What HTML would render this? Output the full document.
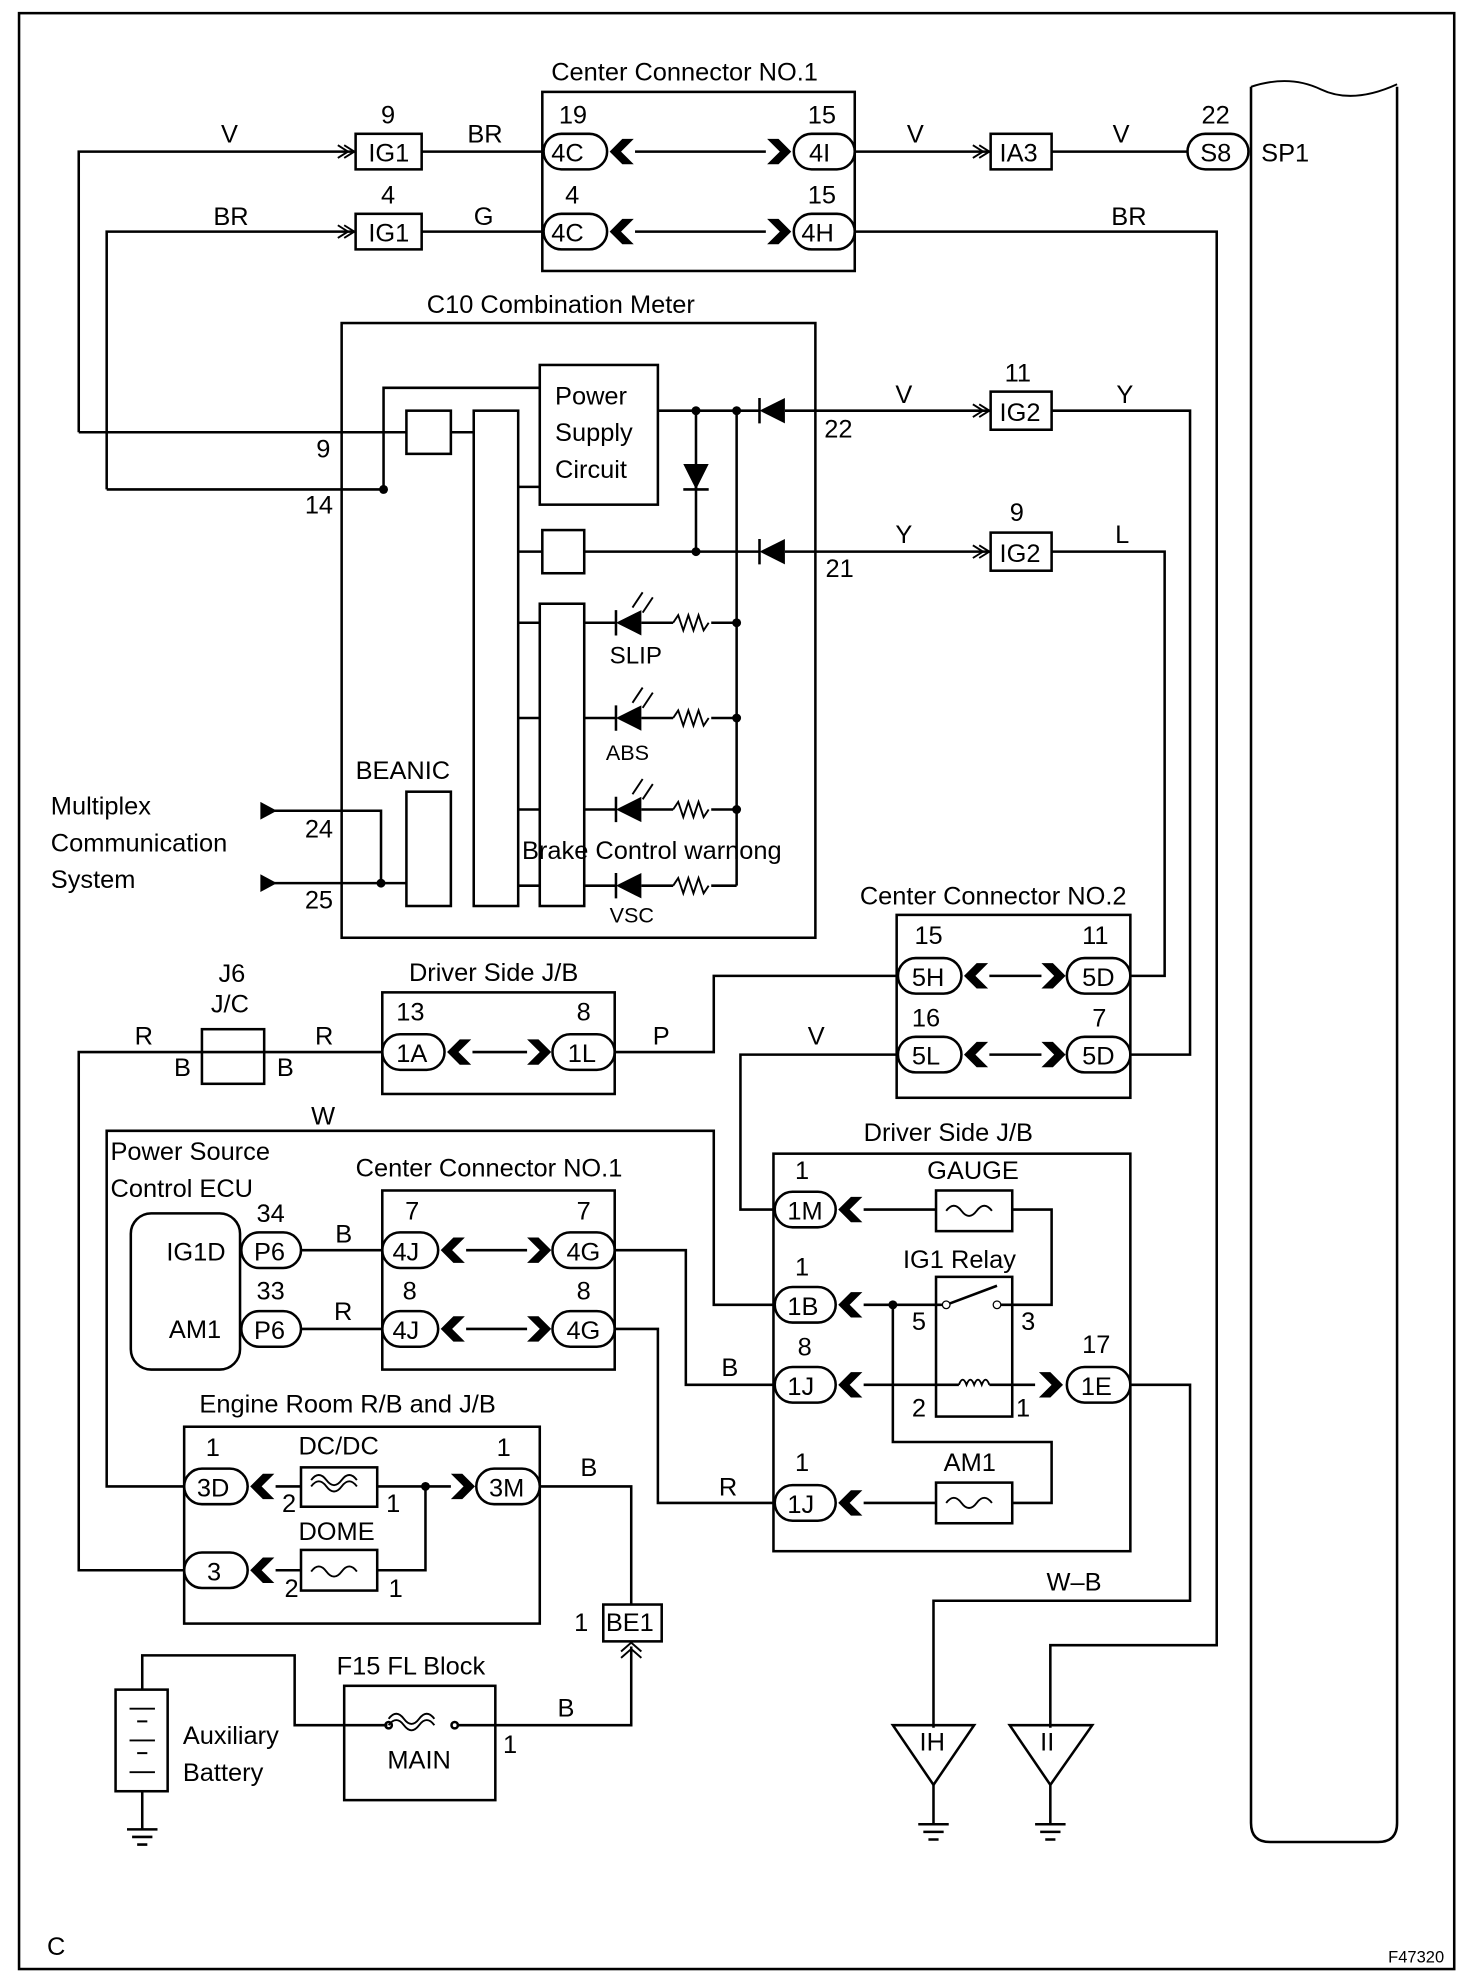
<!DOCTYPE html>
<html><head><meta charset="utf-8"><style>
html,body{margin:0;padding:0;background:#fff}
svg{display:block}
text{font-family:"Liberation Sans",Arial,sans-serif;font-size:20px;fill:#000}
</style></head><body>
<svg width="1472" height="1986" viewBox="0 0 1159 1563" xmlns="http://www.w3.org/2000/svg">
<defs>
<polygon id="cl" points="0,0 10,-10 19,-10 9,0 19,10 10,10" fill="#000"/>
<polygon id="cr" points="0,-10 9,-10 19,0 9,10 0,10 10,0" fill="#000"/>
<path id="dd" d="M0,-5 L8,0 L0,5 M5,-5 L13,0 L5,5" fill="none" stroke="#000" stroke-width="1.5"/>
</defs>
<g fill="none" stroke="#000" stroke-width="2">
<rect x="15" y="10" width="1130" height="1540"/>
<path d="M985,68 V1435 Q985,1450 1000,1450 H1085 Q1100,1450 1100,1435 V68"/>
<path d="M985,68 Q1015,58 1040,70 T1100,66" stroke-width="1.5"/>
<rect x="427" y="72" width="246" height="141"/>
<rect x="280" y="105" width="52" height="28"/>
<rect x="280" y="168" width="52" height="28"/>
<rect x="428" y="105" width="50" height="28" rx="14"/>
<rect x="625" y="105" width="48" height="28" rx="14"/>
<rect x="428" y="168" width="50" height="28" rx="14"/>
<rect x="625" y="168" width="48" height="28" rx="14"/>
<rect x="780" y="105" width="48" height="28"/>
<rect x="935" y="105" width="48" height="28" rx="14"/>
<rect x="780" y="308" width="48" height="30"/>
<rect x="780" y="419" width="48" height="30"/>
<path d="M62,340 V119 H280 M332,119 H428 M500,119 H603 M673,119 H780 M828,119 H935"/>
<path d="M84,385 V182 H280 M332,182 H428 M500,182 H603 M673,182 H958 V1295 H827 V1360"/>
<rect x="269" y="254" width="373" height="484"/>
<rect x="425" y="287" width="93" height="110"/>
<rect x="320" y="323" width="35" height="34"/>
<rect x="373" y="323" width="35" height="390"/>
<rect x="425" y="475" width="35" height="238"/>
<rect x="427" y="417" width="33" height="34"/>
<rect x="320" y="623" width="35" height="90"/>
<path d="M62,340 H320 M355,340 H373 M84,385 H302 V305 H425 M408,383 H425 M408,434 H427"/>
<path d="M408,490 H425 M408,565 H425 M408,637 H425 M408,697 H425"/>
<path d="M518,323 H598 M618,323 H780 M828,323 H937 V830 H890"/>
<path d="M548,323 V434 M460,434 H598 M618,434 H780 M828,434 H917 V768 H890"/>
<path d="M580,323 V697"/>
<path d="M538,385 H558 M548,365 V385" />
<path d="M598,313 V333 M598,424 V444"/>
<path d="M460,490 H485 M505,490 H530 M560,490 H580"/>
<path d="M460,565 H485 M505,565 H530 M560,565 H580"/>
<path d="M460,637 H485 M505,637 H530 M560,637 H580"/>
<path d="M460,697 H485 M505,697 H530 M560,697 H580"/>
<path d="M530,490 l4,-6 l4,12 l4,-12 l4,12 l4,-12 l4,12 l4,-6 M530,565 l4,-6 l4,12 l4,-12 l4,12 l4,-12 l4,12 l4,-6 M530,637 l4,-6 l4,12 l4,-12 l4,12 l4,-12 l4,12 l4,-6 M530,697 l4,-6 l4,12 l4,-12 l4,12 l4,-12 l4,12 l4,-6" stroke-width="1.5"/>
<path d="M485,480 V500 M485,555 V575 M485,627 V647 M485,687 V707"/>
<path d="M498,478 l8,-12 M506,482 l8,-12 M498,553 l8,-12 M506,557 l8,-12 M498,625 l8,-12 M506,629 l8,-12" stroke-width="1.5"/>
<path d="M215,638 H300 V695 M215,695 H320"/>
<rect x="706" y="720" width="184" height="144"/>
<rect x="707" y="754" width="50" height="28" rx="14"/>
<rect x="840" y="754" width="50" height="28" rx="14"/>
<rect x="707" y="816" width="50" height="28" rx="14"/>
<rect x="840" y="816" width="50" height="28" rx="14"/>
<path d="M779,768 H820 M779,830 H820"/>
<path d="M707,768 H562 V828 H484 M707,830 H583 V952 H610"/>
<rect x="301" y="781" width="183" height="80"/>
<rect x="301" y="814" width="49" height="28" rx="14"/>
<rect x="435" y="814" width="49" height="28" rx="14"/>
<path d="M372,828 H415"/>
<rect x="159" y="810" width="49" height="43"/>
<path d="M145,1236 H62 V828 H301 M145,1170 H84 V890 H562 V1027 H610"/>
<rect x="103" y="955" width="86" height="123" rx="16"/>
<rect x="190" y="970" width="47" height="28" rx="14"/>
<rect x="190" y="1032" width="47" height="28" rx="14"/>
<rect x="301" y="937" width="183" height="141"/>
<rect x="301" y="970" width="44" height="28" rx="14"/>
<rect x="301" y="1032" width="44" height="28" rx="14"/>
<rect x="435" y="970" width="49" height="28" rx="14"/>
<rect x="435" y="1032" width="49" height="28" rx="14"/>
<path d="M237,984 H301 M237,1046 H301 M367,984 H415 M367,1046 H415"/>
<path d="M484,984 H540 V1090 H610 M484,1046 H518 V1183 H610"/>
<rect x="609" y="908" width="281" height="313"/>
<rect x="610" y="938" width="48" height="28" rx="14"/>
<rect x="610" y="1013" width="48" height="28" rx="14"/>
<rect x="610" y="1076" width="48" height="28" rx="14"/>
<rect x="610" y="1169" width="48" height="28" rx="14"/>
<rect x="840" y="1076" width="50" height="28" rx="14"/>
<rect x="737" y="937" width="60" height="32"/>
<rect x="737" y="1005" width="60" height="110"/>
<rect x="737" y="1167" width="60" height="32"/>
<path d="M680,952 H737 M797,952 H828 V1027 H797 M680,1027 H745 M680,1090 H755 M779,1090 H815 M703,1027 V1135 H828 V1183 H797 M680,1183 H737"/>
<path d="M745,1027 L785,1012 M785,1027 H797" />
<path d="M755,1090 q3,-8 6,0 q3,-8 6,0 q3,-8 6,0 q3,-8 6,0" stroke-width="1.5"/>
<path d="M890,1090 H937 V1260 H735 V1360"/>
<path d="M745,953 q6,-8 12,0 q6,8 12,0 q6,-8 12,0 M745,1183 q6,-8 12,0 q6,8 12,0 q6,-8 12,0" stroke-width="1.5"/>
<rect x="145" y="1123" width="280" height="155"/>
<rect x="145" y="1156" width="50" height="28" rx="14"/>
<rect x="375" y="1156" width="50" height="28" rx="14"/>
<rect x="145" y="1222" width="50" height="28" rx="14"/>
<rect x="237" y="1155" width="60" height="31"/>
<rect x="237" y="1220" width="60" height="32"/>
<path d="M217,1170 H237 M297,1170 H355 M217,1236 H237 M297,1236 H335 V1170"/>
<path d="M245,1170 q6,-8 12,0 q6,8 12,0 q6,-8 12,0 M245,1165 q6,-8 12,0 q6,8 12,0 q6,-8 12,0 M245,1237 q6,-8 12,0 q6,8 12,0 q6,-8 12,0" stroke-width="1.5"/>
<path d="M425,1170 H497 V1263"/>
<rect x="475" y="1263" width="46" height="29"/>
<path d="M489,1305 l8,-7 l8,7 M489,1300 l8,-7 l8,7" stroke-width="1.5"/>
<path d="M497,1296 V1358 H390"/>
<rect x="271" y="1327" width="119" height="90"/>
<path d="M112,1330 V1303 H232 V1358 H305 M360,1358 H390"/>
<path d="M306,1358 q6,-8 12,0 q6,8 12,0 q6,-8 12,0 M306,1353 q6,-8 12,0 q6,8 12,0 q6,-8 12,0" stroke-width="1.5"/>
<circle cx="306" cy="1358" r="2.5"/><circle cx="358" cy="1358" r="2.5"/>
<rect x="91" y="1330" width="41" height="80"/>
<path d="M102,1345 H122 M108,1355 H116 M102,1370 H122 M108,1380 H116 M102,1395 H122" stroke-width="1.5"/>
<path d="M112,1410 V1440 M100,1440 H124 M104,1446 H120 M108,1452 H116"/>
<polygon points="703,1358 767,1358 735,1405"/>
<polygon points="795,1358 860,1358 827,1405"/>
<path d="M735,1405 V1436 M723,1436 H747 M727,1442 H743 M731,1448 H739"/>
<path d="M827,1405 V1436 M815,1436 H839 M819,1442 H835 M823,1448 H831"/>
</g>
<g fill="#000">
<use href="#cl" x="480" y="119"/><use href="#cr" x="604" y="119"/>
<use href="#cl" x="480" y="182"/><use href="#cr" x="604" y="182"/>
<use href="#cl" x="759" y="768"/><use href="#cr" x="820" y="768"/>
<use href="#cl" x="759" y="830"/><use href="#cr" x="820" y="830"/>
<use href="#cl" x="352" y="828"/><use href="#cr" x="415" y="828"/>
<use href="#cl" x="347" y="984"/><use href="#cr" x="415" y="984"/>
<use href="#cl" x="347" y="1046"/><use href="#cr" x="415" y="1046"/>
<use href="#cl" x="660" y="952"/><use href="#cl" x="660" y="1027"/>
<use href="#cl" x="660" y="1090"/><use href="#cl" x="660" y="1183"/>
<use href="#cr" x="818" y="1090"/>
<use href="#cl" x="197" y="1170"/><use href="#cr" x="355" y="1170"/>
<use href="#cl" x="197" y="1236"/>
<polygon points="598,323 618,313 618,333"/>
<polygon points="598,434 618,424 618,444"/>
<polygon points="538,365 558,365 548,385"/>
<polygon points="485,490 505,480 505,500"/><polygon points="485,565 505,555 505,575"/>
<polygon points="485,637 505,627 505,647"/><polygon points="485,697 505,687 505,707"/>
<polygon points="205,631 218,638 205,645"/><polygon points="205,688 218,695 205,702"/>
<circle cx="302" cy="385" r="3.5"/><circle cx="548" cy="323" r="3.5"/><circle cx="580" cy="323" r="3.5"/>
<circle cx="548" cy="434" r="3.5"/><circle cx="580" cy="490" r="3.5"/><circle cx="580" cy="565" r="3.5"/>
<circle cx="580" cy="637" r="3.5"/><circle cx="300" cy="695" r="3.5"/><circle cx="703" cy="1027" r="3.5"/>
<circle cx="335" cy="1170" r="3.5"/>
<circle cx="745" cy="1027" r="3" fill="#fff" stroke="#000"/><circle cx="785" cy="1027" r="3" fill="#fff" stroke="#000"/>
</g>
<g>
<use href="#dd" x="266" y="119"/><use href="#dd" x="266" y="182"/><use href="#dd" x="766" y="119"/>
<use href="#dd" x="766" y="323"/><use href="#dd" x="766" y="434"/>
</g>
<g>
<text x="434" y="63">Center Connector NO.1</text>
<text x="174" y="112">V</text><text x="300" y="97">9</text><text x="368" y="112">BR</text>
<text x="290" y="127">IG1</text><text x="290" y="190">IG1</text>
<text x="440" y="97">19</text><text x="636" y="97">15</text>
<text x="434" y="127">4C</text><text x="637" y="127">4I</text>
<text x="714" y="112">V</text><text x="787" y="127">IA3</text><text x="876" y="112">V</text>
<text x="946" y="97">22</text><text x="945" y="127">S8</text><text x="993" y="127">SP1</text>
<text x="168" y="177">BR</text><text x="300" y="160">4</text><text x="373" y="177">G</text>
<text x="445" y="160">4</text><text x="636" y="160">15</text>
<text x="434" y="190">4C</text><text x="631" y="190">4H</text><text x="875" y="177">BR</text>
<text x="336" y="246">C10 Combination Meter</text>
<text x="437" y="318">Power</text><text x="437" y="347">Supply</text><text x="437" y="376">Circuit</text>
<text x="249" y="360">9</text><text x="240" y="404">14</text>
<text x="787" y="331">IG2</text><text x="787" y="442">IG2</text>
<text x="705" y="317">V</text><text x="791" y="300">11</text><text x="879" y="317">Y</text>
<text x="649" y="344">22</text><text x="705" y="427">Y</text><text x="795" y="410">9</text>
<text x="878" y="427">L</text><text x="650" y="454">21</text>
<text x="480" y="522" style="font-size:19px">SLIP</text>
<text x="477" y="598" style="font-size:17px">ABS</text>
<text x="280" y="613">BEANIC</text>
<text x="411" y="676">Brake Control warnong</text>
<text x="480" y="726" style="font-size:17px">VSC</text>
<text x="40" y="641">Multiplex</text><text x="40" y="670">Communication</text><text x="40" y="699">System</text>
<text x="240" y="659">24</text><text x="240" y="715">25</text>
<text x="677" y="712">Center Connector NO.2</text>
<text x="720" y="743">15</text><text x="852" y="743">11</text>
<text x="718" y="776">5H</text><text x="852" y="776">5D</text>
<text x="718" y="808">16</text><text x="860" y="808">7</text>
<text x="718" y="838">5L</text><text x="852" y="838">5D</text>
<text x="322" y="772">Driver Side J/B</text>
<text x="312" y="803">13</text><text x="454" y="803">8</text>
<text x="312" y="836">1A</text><text x="447" y="836">1L</text>
<text x="514" y="822">P</text><text x="636" y="822">V</text>
<text x="172" y="773">J6</text><text x="166" y="797">J/C</text>
<text x="106" y="822">R</text><text x="248" y="822">R</text>
<text x="137" y="847">B</text><text x="218" y="847">B</text>
<text x="245" y="885">W</text>
<text x="87" y="913">Power Source</text><text x="87" y="942">Control ECU</text>
<text x="280" y="926">Center Connector NO.1</text>
<text x="202" y="962">34</text><text x="202" y="1023">33</text>
<text x="131" y="992">IG1D</text><text x="133" y="1053">AM1</text>
<text x="200" y="992">P6</text><text x="200" y="1054">P6</text>
<text x="264" y="978">B</text><text x="263" y="1039">R</text>
<text x="319" y="960">7</text><text x="454" y="960">7</text>
<text x="309" y="992">4J</text><text x="446" y="992">4G</text>
<text x="317" y="1023">8</text><text x="454" y="1023">8</text>
<text x="309" y="1054">4J</text><text x="446" y="1054">4G</text>
<text x="568" y="1083">B</text><text x="566" y="1177">R</text>
<text x="680" y="898">Driver Side J/B</text>
<text x="626" y="928">1</text><text x="620" y="960">1M</text>
<text x="730" y="928">GAUGE</text>
<text x="626" y="1004">1</text><text x="620" y="1035">1B</text>
<text x="711" y="998">IG1 Relay</text>
<text x="718" y="1047">5</text><text x="804" y="1047">3</text>
<text x="628" y="1067">8</text><text x="620" y="1098">1J</text>
<text x="718" y="1115">2</text><text x="800" y="1115">1</text>
<text x="852" y="1065">17</text><text x="851" y="1098">1E</text>
<text x="743" y="1158">AM1</text>
<text x="626" y="1158">1</text><text x="620" y="1191">1J</text>
<text x="824" y="1252">W–B</text>
<text x="157" y="1112">Engine Room R/B and J/B</text>
<text x="162" y="1146">1</text><text x="391" y="1146">1</text>
<text x="155" y="1178">3D</text><text x="385" y="1178">3M</text>
<text x="235" y="1145">DC/DC</text>
<text x="222" y="1190">2</text><text x="304" y="1190">1</text>
<text x="235" y="1212">DOME</text>
<text x="163" y="1244">3</text>
<text x="224" y="1257">2</text><text x="306" y="1257">1</text>
<text x="457" y="1162">B</text>
<text x="452" y="1284">1</text><text x="477" y="1284">BE1</text>
<text x="265" y="1318">F15 FL Block</text>
<text x="439" y="1351">B</text><text x="396" y="1380">1</text>
<text x="305" y="1392">MAIN</text>
<text x="144" y="1373">Auxiliary</text><text x="144" y="1402">Battery</text>
<text x="724" y="1378">IH</text><text x="819" y="1378">II</text>
<text x="37" y="1539">C</text>
<text x="1093" y="1545" style="font-size:13px">F47320</text>
</g>
</svg>
</body></html>
